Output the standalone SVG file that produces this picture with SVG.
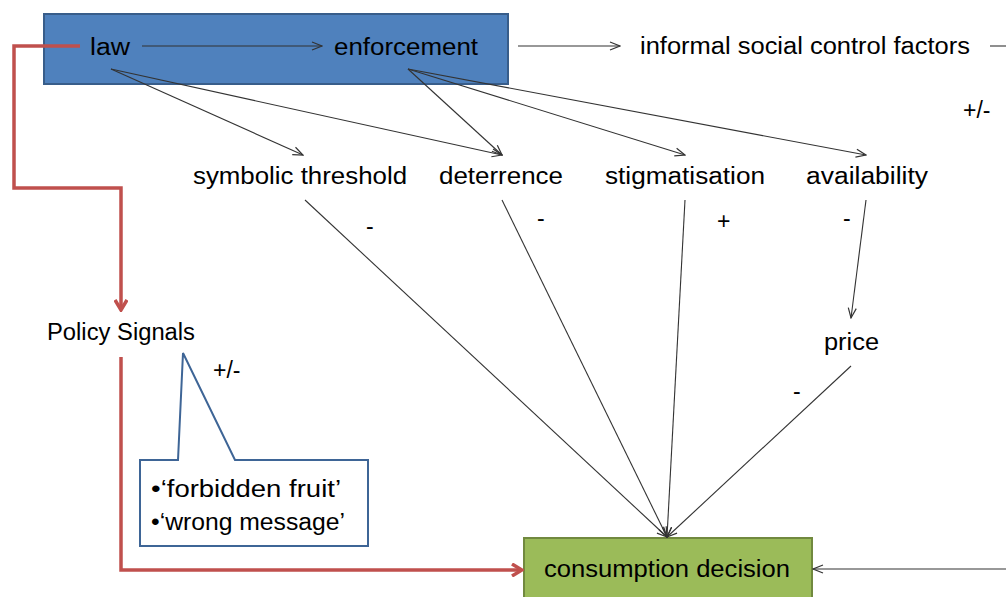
<svg xmlns="http://www.w3.org/2000/svg" width="1006" height="597" viewBox="0 0 1006 597">
<defs>
<marker id="open" viewBox="0 0 12 10" refX="11" refY="5" markerWidth="12" markerHeight="10" markerUnits="userSpaceOnUse" orient="auto">
<path d="M1,1 L11,5 L1,9" fill="none" stroke="#333" stroke-width="1.2"/>
</marker>
<marker id="red" viewBox="0 0 14 14" refX="12" refY="7" markerWidth="14" markerHeight="14" markerUnits="userSpaceOnUse" orient="auto">
<path d="M2,1 L12,7 L2,13" fill="none" stroke="#C0504D" stroke-width="3.5"/>
</marker>
</defs>
<style>
text{font-family:"Liberation Sans",Arial,sans-serif;font-size:23px;fill:#000}
.c{fill:none;stroke:#333;stroke-width:1.1;marker-end:url(#open)}
.n{fill:none;stroke:#333;stroke-width:1.1}
.r{fill:none;stroke:#C0504D;stroke-width:3.5}
</style>
<rect width="1006" height="597" fill="#fff"/>
<g id="top-box">
<rect x="44" y="14" width="464" height="70" fill="#4F81BD" stroke="#385D8A" stroke-width="2"/>
</g>
<g id="law"><text x="90" y="55" textLength="40" lengthAdjust="spacingAndGlyphs">law</text></g>
<g id="enforcement"><text x="334" y="55" textLength="144" lengthAdjust="spacingAndGlyphs">enforcement</text></g>
<g id="informal"><text x="640" y="54" textLength="330" lengthAdjust="spacingAndGlyphs">informal social control factors</text></g>
<g id="symbolic"><text x="193" y="184" textLength="214" lengthAdjust="spacingAndGlyphs">symbolic threshold</text></g>
<g id="deterrence"><text x="439" y="184" textLength="124" lengthAdjust="spacingAndGlyphs">deterrence</text></g>
<g id="stigmatisation"><text x="605" y="184" textLength="160" lengthAdjust="spacingAndGlyphs">stigmatisation</text></g>
<g id="availability"><text x="806" y="184" textLength="122" lengthAdjust="spacingAndGlyphs">availability</text></g>
<g id="price"><text x="824" y="350" textLength="55" lengthAdjust="spacingAndGlyphs">price</text></g>
<g id="policy"><text x="47" y="340" textLength="148" lengthAdjust="spacingAndGlyphs">Policy Signals</text></g>
<g id="consumption">
<rect x="524" y="538" width="288" height="70" fill="#9BBB59" stroke="#71893F" stroke-width="2"/>
<text x="544" y="577" textLength="246" lengthAdjust="spacingAndGlyphs">consumption decision</text>
</g>
<g id="callout">
<path d="M140,460 L178,460 L183,353 L235,460 L368,460 L368,546 L140,546 Z" fill="#fff" stroke="#3E6596" stroke-width="2"/>
<text x="151" y="497" textLength="190" lengthAdjust="spacingAndGlyphs">•‘forbidden fruit’</text>
<text x="151" y="530" textLength="194" lengthAdjust="spacingAndGlyphs">•‘wrong message’</text>
</g>
<g id="signs">
<text x="963" y="118">+/-</text>
<text x="213" y="378">+/-</text>
<text x="366" y="234">-</text>
<text x="537" y="226">-</text>
<text x="717" y="229">+</text>
<text x="843" y="226">-</text>
<text x="793" y="399">-</text>
</g>
<g id="connectors">
<line class="c" x1="142" y1="46" x2="322" y2="46"/>
<line class="c" x1="518" y1="46" x2="620" y2="46"/>
<line class="n" x1="990" y1="46" x2="1006" y2="46"/>
<line class="c" x1="111" y1="69" x2="303" y2="155"/>
<line class="c" x1="111" y1="69" x2="502" y2="155"/>
<line class="c" x1="408" y1="69" x2="502" y2="155"/>
<line class="c" x1="408" y1="69" x2="685" y2="155"/>
<line class="c" x1="408" y1="69" x2="866" y2="155"/>
<line class="c" x1="305" y1="200" x2="667" y2="537"/>
<line class="c" x1="502" y1="200" x2="667" y2="537"/>
<line class="c" x1="685" y1="200" x2="667" y2="537"/>
<line class="c" x1="866" y1="200" x2="851" y2="318"/>
<line class="c" x1="851" y1="366" x2="667" y2="537"/>
<line class="c" x1="1006" y1="569" x2="813" y2="569"/>
<path class="r" d="M80,46 L14,46 L14,188 L121,188 L121,310" marker-end="url(#red)"/>
<path class="r" d="M121,357 L121,570 L522,570" marker-end="url(#red)"/>
</g>
</svg>
